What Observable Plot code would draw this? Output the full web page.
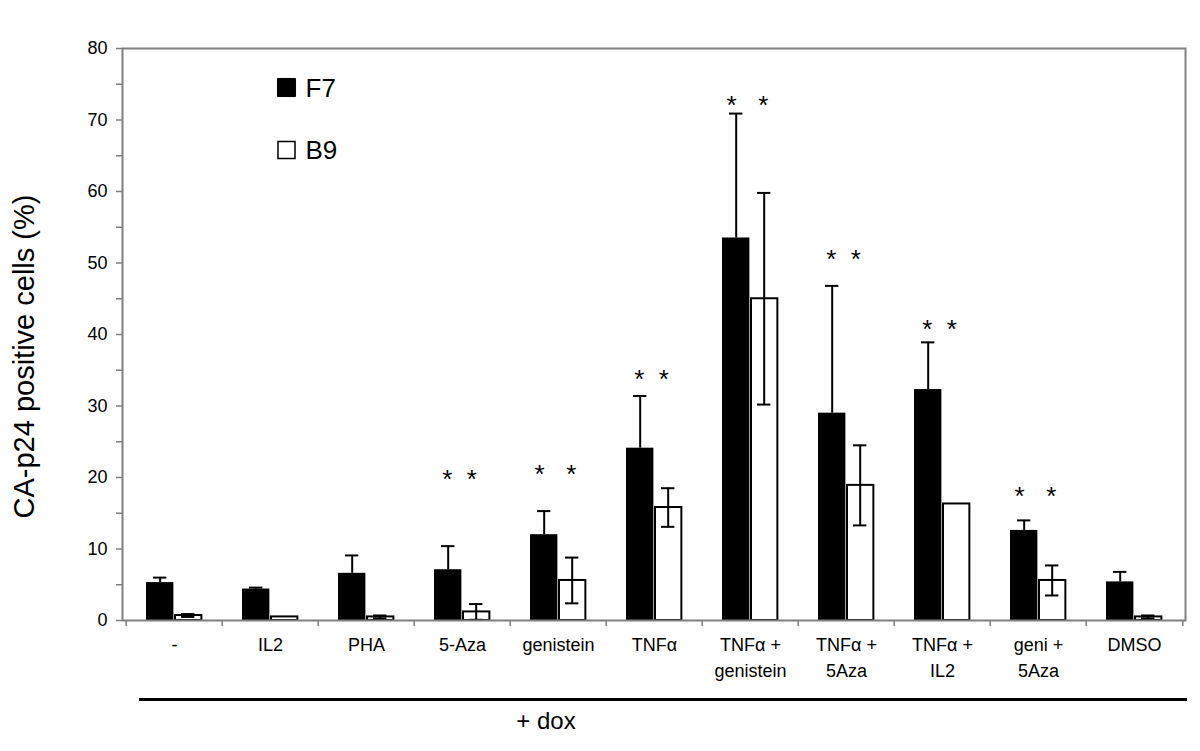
<!DOCTYPE html>
<html>
<head>
<meta charset="utf-8">
<script src="https://cdn.jsdelivr.net/npm/d3@7"></script>
<script src="https://cdn.jsdelivr.net/npm/@observablehq/plot@0.6"></script>
<style>
  html, body { margin: 0; padding: 0; background: white; }
  #wrap { position: relative; width: 1200px; height: 751px; font-family: "Liberation Sans", Arial, sans-serif; }
  #groupline { position: absolute; left: 139px; top: 698px; width: 1048px; height: 2.5px; background: black; }
  #grouplabel { position: absolute; left: 446px; width: 200px; top: 707px; text-align: center; font-size: 24px; line-height: 28px; color: black; }
</style>
</head>
<body>
<div id="wrap">
  <div id="chart"></div>
  <div id="groupline"></div>
  <div id="grouplabel">+ dox</div>
</div>
<script>
const categories = ["-", "IL2", "PHA", "5-Aza", "genistein", "TNFα", "TNFα +\ngenistein", "TNFα +\n5Aza", "TNFα +\nIL2", "geni +\n5Aza", "DMSO"];
const series = ["F7", "B9"];
const f7 = [5.3, 4.4, 6.6, 7.1, 12.0, 24.1, 53.5, 29.0, 32.3, 12.6, 5.4];
const f7Err = [0.7, 0.2, 2.5, 3.3, 3.3, 7.3, 17.4, 17.8, 6.6, 1.4, 1.4];
const b9 = [0.7, 0.5, 0.5, 1.2, 5.6, 15.8, 45.0, 18.9, 16.3, 5.6, 0.5];
const b9Err = [0.2, 0.0, 0.2, 1.1, 3.2, 2.7, 14.8, 5.6, 0.0, 2.1, 0.2];
const starCategories = ["5-Aza", "genistein", "TNFα", "TNFα +\ngenistein", "TNFα +\n5Aza", "TNFα +\nIL2", "geni +\n5Aza"];
const starY = [20.6, 21.3, 34.5, 72.8, 51.3, 41.5, 18.1];
const starText = ["*  *", "*   *", "*  *", "*   *", "*  *", "*  *", "*   *"];
const yTicks = d3.range(0, 81, 5);
const yLabel = "CA-p24 positive cells (%)";

const W = 1200, H = 690, ML = 122, MR = 15, MT = 48, MB = 70;
const step = (W - ML - MR) / categories.length;

const rows = categories.map((c, i) => ({category: c, f7: f7[i], f7Err: f7Err[i], b9: b9[i], b9Err: b9Err[i]}));
const b9Rows = rows.filter(d => d.b9Err > 0);
const stars = starCategories.map((c, i) => ({category: c, y: starY[i], text: starText[i]}));

const gray = "#808080";

const plot = Plot.plot({
  width: W, height: H,
  marginLeft: ML, marginRight: MR, marginTop: MT, marginBottom: MB,
  style: {fontFamily: "'Liberation Sans', Arial, sans-serif", fontSize: "18px", background: "white", color: "black", overflow: "visible"},
  x: {domain: categories, padding: 0, label: null},
  y: {domain: [0, 80], label: null},
  marks: [
    Plot.barY(rows, {x: "category", y: "f7", fill: "black", insetLeft: 20, insetRight: step - 48}),
    Plot.barY(rows, {x: "category", y: "b9", fill: "white", stroke: "black", strokeWidth: 2, insetLeft: 49, insetRight: step - 76}),
    Plot.ruleX(rows, {x: "category", y1: "f7", y2: d => d.f7 + d.f7Err, dx: 34 - step / 2, stroke: "black", strokeWidth: 2}),
    Plot.tickY(rows, {x: "category", y: d => d.f7 + d.f7Err, insetLeft: 27, insetRight: step - 41, stroke: "black", strokeWidth: 2}),
    Plot.ruleX(b9Rows, {x: "category", y1: d => d.b9 - d.b9Err, y2: d => d.b9 + d.b9Err, dx: 62 - step / 2, stroke: "black", strokeWidth: 2}),
    Plot.tickY(b9Rows, {x: "category", y: d => d.b9 + d.b9Err, insetLeft: 55, insetRight: step - 69, stroke: "black", strokeWidth: 2}),
    Plot.tickY(b9Rows, {x: "category", y: d => d.b9 - d.b9Err, insetLeft: 55, insetRight: step - 69, stroke: "black", strokeWidth: 2}),
    Plot.text(stars, {x: "category", y: "y", text: "text", fontSize: 26, dx: -3, dy: 6, fill: "black"}),
    Plot.frame({stroke: gray, strokeWidth: 2}),
    Plot.axisY({ticks: yTicks, tickSize: 6, tickPadding: 9, tickFormat: d => d % 10 === 0 ? d : "", stroke: gray, strokeWidth: 1.5, label: null, fontSize: 18}),
    Plot.axisX({tickSize: 0, tickPadding: 12, lineHeight: 1.45, fontSize: 18, label: null}),
    Plot.axisX({tickSize: 6, text: null, dx: -step / 2, stroke: gray, strokeWidth: 1.5, label: null}),
    Plot.axisX({ticks: [categories[categories.length - 1]], tickSize: 6, text: null, dx: step / 2, stroke: gray, strokeWidth: 1.5, label: null}),
    Plot.text([yLabel], {frameAnchor: "left", textAnchor: "middle", lineAnchor: "middle", rotate: -90, dx: -98, dy: 22, fontSize: 29, fill: "black"}),
    Plot.dot([series[0]], {frameAnchor: "top-left", dx: 164, dy: 39, symbol: "square", r: 10.2, fill: "black", stroke: "black", strokeWidth: 1}),
    Plot.text([series[0]], {frameAnchor: "top-left", dx: 183, dy: 40, textAnchor: "start", lineAnchor: "middle", fontSize: 26, fill: "black", text: d => d}),
    Plot.dot([series[1]], {frameAnchor: "top-left", dx: 164, dy: 101.5, symbol: "square", r: 9.6, fill: "white", stroke: "black", strokeWidth: 1.5}),
    Plot.text([series[1]], {frameAnchor: "top-left", dx: 183, dy: 102, textAnchor: "start", lineAnchor: "middle", fontSize: 26, fill: "black", text: d => d})
  ]
});
document.getElementById("chart").appendChild(plot);
</script>
</body>
</html>
